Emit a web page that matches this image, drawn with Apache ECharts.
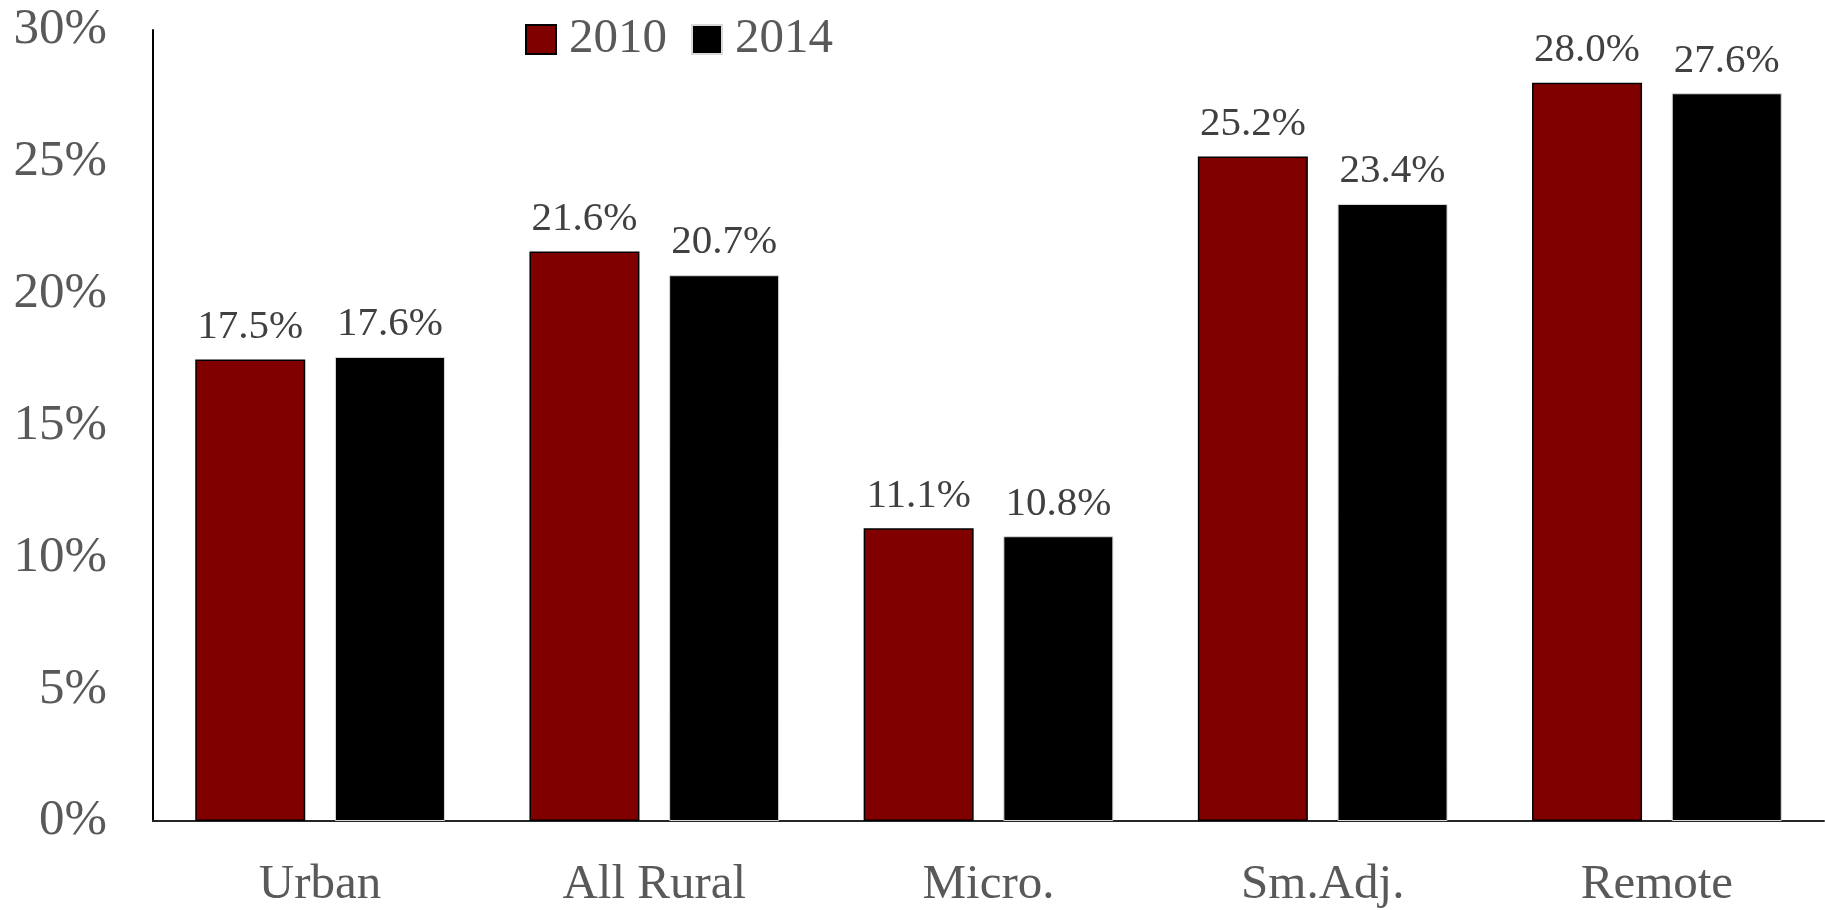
<!DOCTYPE html>
<html>
<head>
<meta charset="utf-8">
<script src="https://cdn.jsdelivr.net/npm/echarts@6/dist/echarts.min.js"></script>
<style>
  html, body { margin: 0; padding: 0; background: #fff; }
  #chart { width: 1825px; height: 910px; }
</style>
</head>
<body>
<div id="chart"></div>
<script>
// Share of population by area type, 2010 vs 2014 (percent)
const categories = ['Urban', 'All Rural', 'Micro.', 'Sm.Adj.', 'Remote'];
const values2010 = [17.5, 21.6, 11.1, 25.2, 28.0];
const values2014 = [17.6, 20.7, 10.8, 23.4, 27.6];
const seriesNames = ['2010', '2014'];

const FONT = '"Liberation Serif", "DejaVu Serif", serif';

const chart = echarts.init(document.getElementById('chart'), null, { renderer: 'canvas' });

const valueLabel = {
  show: true,
  position: 'top',
  distance: 12,
  fontFamily: FONT,
  fontSize: 41,
  color: '#404040',
  formatter: p => p.value.toFixed(1) + '%'
};

chart.setOption({
  animation: false,
  backgroundColor: '#ffffff',
  textStyle: { fontFamily: FONT },
  legend: {
    top: 10,
    left: 520,
    itemWidth: 30,
    itemHeight: 29,
    itemGap: 24,
    icon: 'rect',
    textStyle: { fontFamily: FONT, fontSize: 49, color: '#595959', padding: [0, 0, 0, 8] },
    data: seriesNames
  },
  grid: { left: 153, right: 1, top: 30, bottom: 89, containLabel: false },
  xAxis: {
    type: 'category',
    data: categories,
    axisLine: { lineStyle: { color: '#262626', width: 2 } },
    axisTick: { show: false },
    axisLabel: { fontFamily: FONT, fontSize: 49, color: '#595959', margin: 40 }
  },
  yAxis: {
    type: 'value',
    min: 0,
    max: 30,
    interval: 5,
    axisLine: { show: true, lineStyle: { color: '#000', width: 2 } },
    axisTick: { show: false },
    splitLine: { show: false },
    axisLabel: {
      fontFamily: FONT, fontSize: 51, color: '#595959', margin: 46,
      formatter: '{value}%'
    }
  },
  series: [
    {
      name: seriesNames[0],
      type: 'bar',
      data: values2010,
      barWidth: 110,
      barGap: '27%',
      itemStyle: { color: '#800000', borderColor: '#000', borderWidth: 1.5 },
      label: valueLabel
    },
    {
      name: seriesNames[1],
      type: 'bar',
      data: values2014,
      barWidth: 110,
      barGap: '27%',
      itemStyle: { color: '#000000', borderColor: '#d9d9d9', borderWidth: 1 },
      label: valueLabel
    }
  ]
});
</script>
</body>
</html>
